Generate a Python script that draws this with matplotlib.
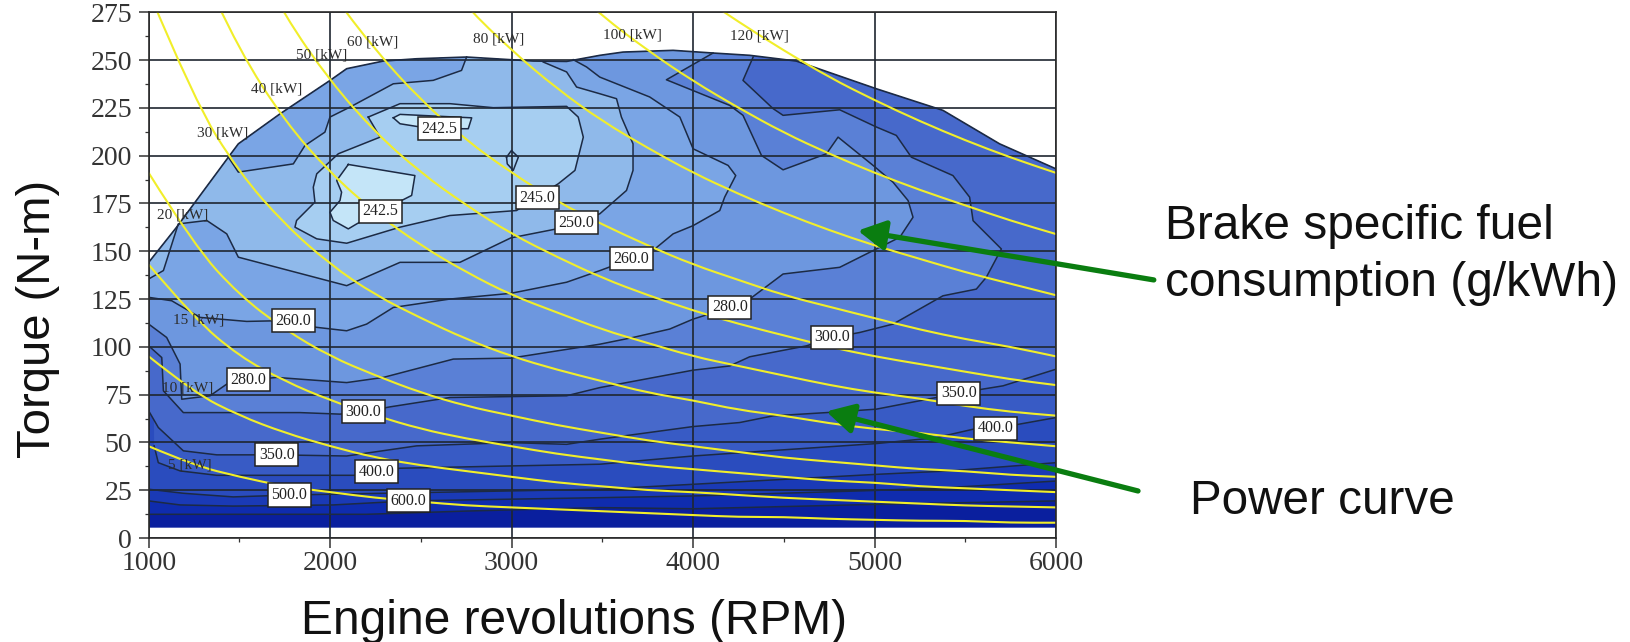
"""Engine map: BSFC contours with constant-power curves over torque vs RPM."""
import matplotlib
matplotlib.use("Agg")
import matplotlib.pyplot as plt
from matplotlib.patches import PathPatch, Polygon
from matplotlib.path import Path

# upper limit of the map (rpm, torque), the fill stops at the floor torque
ENVELOPE_RPM = [1000, 1154, 1439, 1494, 1724, 2000, 2091, 2293, 2477, 2752, 3119, 3303,
                3487, 3614, 3890, 4110, 4312, 4569, 5010, 5377, 5689, 6000]
ENVELOPE_T = [144.2, 162.6, 199.2, 206.2, 221.9, 239.4, 245.5, 249.5, 250.7, 251.6, 249.5, 249.3,
              252.5, 254.2, 255.1, 253.7, 252.5, 249.5, 235.0, 223.7, 206.2, 193.1]
FLOOR_T = 5.4

# bsfc contours
C700 = [(1000, 12.4), (2201, 12.4), (2752, 14.1), (3487, 15.9), (4000, 15.3), (5010, 17.6), (6000, 19.4)]
C600 = [(1000, 19.4), (1173, 17.3), (1466, 16.7), (2017, 17.3), (2431, 19.4), (3487, 21.1), (4000, 22.0),
        (5010, 24.9), (5396, 26.3), (6000, 29.8)]
C500 = [(1000, 25.5), (1191, 23.4), (1466, 21.5), (1779, 22.5), (2752, 24.2), (3487, 25.5), (4000, 28.1),
        (5010, 33.3), (5414, 35.1), (6000, 39.4)]
C400 = [(1030, 48.2), (1053, 39.4), (1173, 35.1), (1375, 32.8), (2137, 32.8), (2256, 34.7), (2385, 36.5),
        (2996, 37.7), (3487, 38.6), (4000, 42.9), (4275, 44.7), (5010, 49.4), (5341, 52.5), (5543, 56.9),
        (5671, 57.4), (6000, 63.0)]
C350 = [(1000, 66.5), (1053, 57.8), (1191, 45.6), (1375, 43.5), (1705, 43.5), (2091, 42.9), (2477, 48.2),
        (2996, 49.9), (3303, 49.0), (3487, 51.7), (4000, 58.3), (4257, 60.4), (4441, 63.9), (4735, 65.6),
        (5010, 67.4), (5341, 73.5), (5460, 75.8), (5708, 79.6), (6000, 88.3)]
C300 = [(1000, 100.5), (1072, 94.4), (1081, 77.0), (1191, 65.6), (1834, 65.6), (2054, 64.8), (2183, 66.0),
        (2330, 68.6), (2660, 73.5), (3303, 74.4), (3487, 78.7), (4000, 87.8), (4202, 90.0), (4312, 94.8),
        (4624, 100.5), (4771, 104.9), (4918, 107.5), (5102, 111.9), (5377, 126.7), (5561, 130.2),
        (5616, 136.4), (5699, 151.2), (5543, 166.0), (5524, 178.3), (5432, 189.6), (5203, 199.2),
        (5120, 210.6), (5010, 215.0), (4808, 224.0), (4496, 221.1), (4441, 224.6), (4275, 239.4),
        (4331, 251.6)]
C280 = [(1000, 111.9), (1099, 104.9), (1173, 91.0), (1182, 72.6), (1338, 74.4), (1430, 80.5), (1559, 82.7),
        (1705, 84.0), (2091, 81.3), (2293, 84.0), (2679, 93.6), (2996, 94.1), (3487, 101.4), (3669, 104.9),
        (3871, 109.3), (4000, 114.5), (4202, 120.6), (4312, 125.0), (4496, 138.1), (4808, 141.6),
        (5010, 151.2), (5139, 157.3), (5212, 167.8), (5185, 176.5), (5102, 186.1), (4992, 194.9),
        (4799, 209.7), (4735, 201.0), (4496, 192.6), (4377, 200.1), (4275, 221.1), (4202, 226.3),
        (3853, 239.7), (4110, 253.7)]
C260 = [(1000, 125.9), (1127, 124.1), (1283, 115.4), (1540, 113.3), (1687, 113.6), (1926, 110.2),
        (2091, 108.4), (2201, 111.9), (2348, 120.6), (2660, 125.0), (2996, 128.0), (3303, 133.8),
        (3487, 139.9), (3660, 146.0), (3789, 151.2), (3890, 159.1), (4000, 163.4), (4147, 171.3),
        (4174, 178.3), (4235, 189.6), (4193, 194.9), (4000, 203.6), (3927, 220.2), (3761, 230.7),
        (3486, 241.1), (3413, 246.4), (3340, 250.2)]
C250_A = [(1000, 135.5), (1081, 139.9), (1163, 164.3), (1320, 166.1), (1430, 159.1), (1494, 146.9),
          (2091, 132.0), (2385, 144.2), (2715, 144.2), (2996, 157.0), (3248, 161.7), (3358, 165.2),
          (3486, 169.6), (3633, 181.8), (3669, 192.3), (3669, 206.2), (3605, 220.2), (3578, 229.8),
          (3486, 232.4), (3358, 235.9), (3303, 243.8), (3174, 249.0)]
C250_B = [(2752, 251.6), (2724, 244.6), (2568, 239.4), (2348, 237.6), (2109, 225.4), (1999, 220.2),
          (1971, 212.3), (1861, 205.3), (1797, 195.7), (1494, 191.4), (1439, 199.2)]
C245 = [(2210, 220.2), (2385, 227.2), (2660, 227.2), (2899, 225.1), (3303, 225.8), (3367, 220.2),
        (3395, 209.7), (3349, 192.3), (3257, 185.3), (3138, 178.3), (3027, 171.3), (2660, 168.7),
        (2385, 162.6), (2091, 154.2), (1926, 156.5), (1806, 162.6), (1815, 166.1), (1916, 175.7),
        (1907, 183.5), (1926, 190.5), (2045, 201.0), (2275, 209.7)]
C245_DOT = [(2972, 199.2), (2999, 202.7), (3037, 199.2), (3009, 192.3), (2976, 195.7)]
C242_TOP = [(2348, 219.8), (2385, 221.6), (2780, 219.8), (2761, 214.1), (2601, 214.1), (2477, 215.3),
            (2385, 216.7)]
C242_LOW = [(2100, 195.4), (2467, 189.6), (2449, 179.2), (2278, 171.0), (2146, 164.3), (2100, 161.7),
            (2017, 166.1), (1999, 170.4), (2054, 176.5), (2063, 180.9), (2036, 187.0)]

# constant-power curves
POWER_RPM = [1000, 1250, 1500, 1750, 2000, 2250, 2500, 2750, 3000, 3250, 3500, 3750, 4000,
             4250, 4500, 4750, 5000, 5250, 5500, 5750, 6000]
P5 = [48, 38, 32, 27, 24, 21, 19, 17, 16, 15, 14, 13, 12, 11, 11, 10, 9.5, 9, 9, 8, 8]
P10 = [95, 76, 64, 55, 48, 42, 38, 35, 32, 29, 27, 25, 24, 22.5, 21, 20, 19, 18, 17, 16.5, 16]
P15 = [143, 115, 95, 82, 72, 64, 57, 52, 48, 44, 41, 38, 36, 34, 32, 30, 29, 27, 26, 25, 24]
P20 = [191, 153, 127, 109, 95, 85, 76, 69, 64, 59, 55, 51, 48, 45, 42, 40, 38, 36, 35, 33, 32]
P30 = [286, 229, 191, 164, 143, 127, 115, 104, 95, 88, 82, 76, 72, 67, 64, 60, 57, 55, 52, 50, 48]
P40 = [382, 306, 255, 218, 191, 170, 153, 139, 127, 118, 109, 102, 95, 90, 85, 80, 76, 73, 69, 66, 64]
P50 = [477, 382, 318, 273, 239, 212, 191, 174, 159, 147, 136, 127, 119, 112, 106, 100, 95, 91, 87, 83, 80]
P60 = [573, 458, 382, 327, 286, 255, 229, 208, 191, 176, 164, 153, 143, 135, 127, 121, 115, 109, 104, 100, 95]
P80 = [764, 611, 509, 436, 382, 340, 306, 278, 255, 235, 218, 204, 191, 180, 170, 161, 153, 146, 139, 133, 127]
P100 = [955, 764, 637, 546, 477, 424, 382, 347, 318, 294, 273, 255, 239, 225, 212, 201, 191, 182, 174, 166, 159]
P120 = [1146, 917, 764, 655, 573, 509, 458, 417, 382, 353, 327, 306, 286, 270, 255, 241, 229, 218, 208, 199, 191]

KW_TEXT = ["5 [kW]", "10 [kW]", "15 [kW]", "20 [kW]", "30 [kW]", "40 [kW]", "50 [kW]", "60 [kW]",
           "80 [kW]", "100 [kW]", "120 [kW]"]
KW_RPM = [1228, 1213, 1274, 1187, 1408, 1705, 1953, 2232, 2926, 3664, 4364]
KW_T = [38, 78.7, 114, 169, 211.8, 234.7, 252.5, 259.5, 261, 263, 262.4]

LEVEL_TEXT = ["242.5", "242.5", "245.0", "250.0", "260.0", "260.0", "280.0", "280.0",
              "300.0", "300.0", "350.0", "350.0", "400.0", "400.0", "500.0", "600.0"]
LEVEL_RPM = [2601, 2278, 3141, 3358, 3660, 1797, 1549, 4202, 2183, 4766, 1705, 5464, 2256, 5667, 1775, 2431]
LEVEL_T = [214, 171, 178, 165, 146, 113.6, 82.7, 120.6, 66, 104.9, 43.5, 75.8, 34.7, 57.3, 22.5, 19.4]

plt.rcParams["font.family"] = ["Liberation Serif", "DejaVu Serif"]
SANS = "Liberation Sans"
INK = "#111111"
GREEN = "#0a7d10"
LINE = "#1c2a44"
TOP = 400  # above the envelope, used only to close clipped fills


def xy(points):
    return [p[0] for p in points], [p[1] for p in points]


def smooth_path(xs, ys):
    # quadratic segments between midpoints, the read points act as controls
    verts = [(xs[0], ys[0])]
    codes = [Path.MOVETO]
    for i in range(1, len(xs) - 1):
        verts += [(xs[i], ys[i]), ((xs[i] + xs[i + 1]) / 2, (ys[i] + ys[i + 1]) / 2)]
        codes += [Path.CURVE3, Path.CURVE3]
    verts.append((xs[-1], ys[-1]))
    codes.append(Path.LINETO)
    return Path(verts, codes)


fig = plt.figure(figsize=(16.30, 6.42), dpi=100)
ax = fig.add_axes([148.7 / 1630, 1 - 538 / 642, (1056 - 148.7) / 1630, (538 - 12.3) / 642])
ax.set_xlim(1000, 6000)
ax.set_ylim(0, 275)

envelope = Polygon(list(zip(ENVELOPE_RPM, ENVELOPE_T)) + [(6000, FLOOR_T), (1000, FLOOR_T)],
                   closed=True, facecolor="#0a1f9e", edgecolor="none", zorder=1)
ax.add_patch(envelope)

# painted from the highest consumption inwards; every fill is cut by the envelope
fills = [
    (C700 + [(6000, TOP), (1000, TOP)], "#0f2cae"),
    (C600 + [(6000, TOP), (1000, TOP)], "#1a3ab6"),
    (C500 + [(6000, TOP), (1000, TOP)], "#2a4cbe"),
    (C400 + [(6000, TOP), (1000, TOP)], "#385bc5"),
    (C350 + [(6000, TOP), (1000, TOP)], "#4769cb"),
    (C300 + [(4331, TOP), (1000, TOP)], "#5a80d6"),
    (C280 + [(4110, TOP), (1000, TOP)], "#6d97df"),
    (C260 + [(3340, TOP), (1000, TOP)], "#7aa5e5"),
    (C250_A + [(3174, TOP), (2752, TOP)] + C250_B + [(1000, 230)], "#8fb9ea"),
    (C245, "#a6cef1"),
    (C245_DOT, "#a6cef1"),
    (C242_TOP, "#c4e5f8"),
    (C242_LOW, "#c4e5f8"),
]
for pts, colour in fills:
    patch = Polygon(pts, closed=True, facecolor=colour, edgecolor="none", zorder=2)
    ax.add_patch(patch)
    patch.set_clip_path(envelope)

# contour lines
for pts in [C700, C600, C500, C400, C350, C300, C280, C260, C250_A, C250_B]:
    ax.plot(*xy(pts), color=LINE, lw=1.1, zorder=3)
for pts in [C245, C245_DOT, C242_TOP, C242_LOW]:
    ax.plot(*xy(pts + pts[:1]), color=LINE, lw=1.1, zorder=3)
ax.plot(ENVELOPE_RPM, ENVELOPE_T, color=LINE, lw=1.2, zorder=3)

ax.set_xticks([1000, 2000, 3000, 4000, 5000, 6000])
ax.set_xticks([1500, 2500, 3500, 4500, 5500], minor=True)
ax.set_yticks(range(0, 276, 25))
ax.set_yticks([v + 12.5 for v in range(0, 275, 25)], minor=True)
ax.grid(True, which="major", color="#1f2630", lw=1.2, zorder=4)
ax.set_axisbelow(False)
ax.tick_params(axis="both", which="major", labelsize=20, length=7, width=1.1, color="#333333",
               labelcolor="#333333", pad=5)
ax.tick_params(axis="x", which="major", pad=2)
ax.tick_params(axis="both", which="minor", length=3, width=0.9, color="#333333")
for side in ax.spines.values():
    side.set_color("#2a2a2a")
    side.set_linewidth(1.2)
    side.set_zorder(6)

for curve in [P5, P10, P15, P20, P30, P40, P50, P60, P80, P100, P120]:
    ax.add_patch(PathPatch(smooth_path(POWER_RPM, curve), facecolor="none", edgecolor="#f1ee2a", lw=1.5, zorder=5))

for text, rpm, t in zip(KW_TEXT, KW_RPM, KW_T):
    ax.text(rpm, t, text, ha="center", va="center", fontsize=11, color="#2c2c2c", zorder=7)
for text, rpm, t in zip(LEVEL_TEXT, LEVEL_RPM, LEVEL_T):
    ax.text(rpm, t, text, ha="center", va="center", fontsize=11.5, color="#222222", zorder=8,
            bbox=dict(boxstyle="square,pad=0.22", facecolor="white", edgecolor="#222222", linewidth=1.1))

fig.text(574 / 1630, 1 - 622 / 642, "Engine revolutions (RPM)", fontsize=34.5, family=SANS, color=INK,
         ha="center", va="center")
fig.text(38 / 1630, 1 - 319 / 642, "Torque (N-m)", fontsize=34, family=SANS, color=INK, rotation=90,
         ha="center", va="center")
fig.text(1165 / 1630, 1 - 255 / 642, "Brake specific fuel\nconsumption (g/kWh)", fontsize=34.5, family=SANS,
         color=INK, va="center", ha="left", linespacing=1.34)
fig.text(1190 / 1630, 1 - 501 / 642, "Power curve", fontsize=34.3, family=SANS, color=INK,
         va="center", ha="left")

for tip, tail in [((4908, 160.8), (6539, 135)), ((4734, 66.2), (6452, 24.6))]:
    ax.annotate("", xy=tip, xytext=tail, annotation_clip=False, zorder=9,
                arrowprops=dict(arrowstyle="-|>,head_length=1.1,head_width=0.6", color=GREEN, lw=3.8,
                                shrinkA=0, shrinkB=0, mutation_scale=15))

fig.savefig("out.png", dpi=100, facecolor="white")
plt.close(fig)
